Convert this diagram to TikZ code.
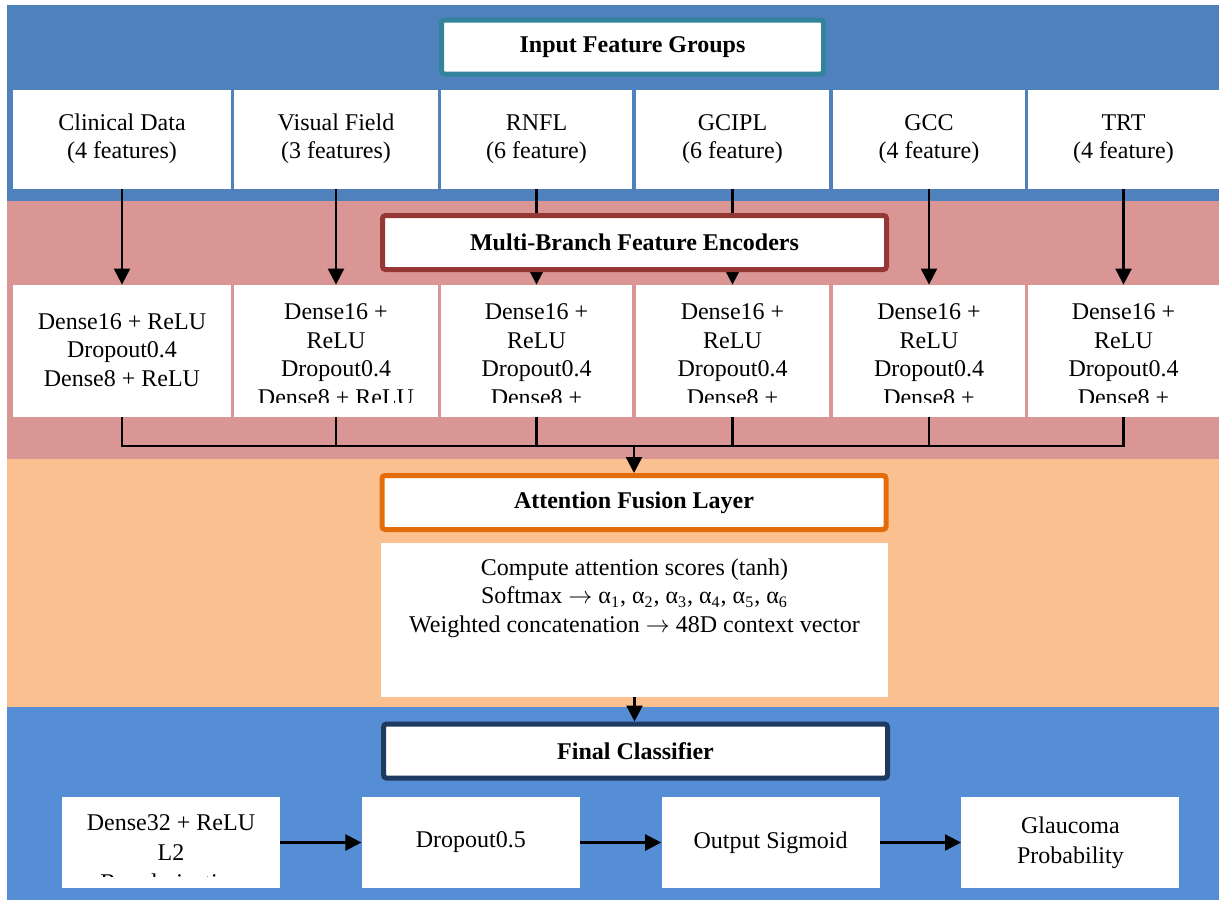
\documentclass[tikz,border=0pt]{standalone}
\usepackage{fontspec}
\setmainfont{Liberation Serif}
\usepackage{tikz}
\usetikzlibrary{positioning, arrows.meta}
\definecolor{inband}{HTML}{4F81BD}
\definecolor{encband}{HTML}{D99694}
\definecolor{fuseband}{HTML}{FAC090}
\definecolor{clsband}{HTML}{558ED5}
\definecolor{inedge}{HTML}{31849B}
\definecolor{encedge}{HTML}{953735}
\definecolor{fuseedge}{HTML}{E46C0A}
\definecolor{clsedge}{HTML}{1F3A60}
\tikzset{
  group title/.style={
    draw,
    line width=2.5pt,
    rounded corners=1.5pt,
    fill=white,
    minimum width=252pt,
    minimum height=27pt,
    inner sep=0pt,
    font=\fontsize{12}{14}\selectfont\bfseries
  },
  feat box/.style={
    fill=white, inner sep=0pt,
    minimum height=49.5pt,
    align=center, font=\fontsize{12}{14.2}\selectfont
  },
  enc box/.style={
    fill=white, inner sep=0pt,
    minimum height=66pt
  },
  enc text/.style={
    inner sep=0pt, anchor=north,
    align=center, font=\fontsize{12}{14.4}\selectfont
  },
  cls box/.style={
    fill=white, inner sep=0pt,
    minimum width=109pt, minimum height=45.5pt,
    align=center, font=\fontsize{12}{15}\selectfont
  },
  flow arrow/.style={
    -{Triangle[width=8pt, length=8pt]},
    line width=1.2pt
  },
  flow line/.style={line width=1.2pt}
}

\begin{document}
\begin{tikzpicture}[x=0.5pt, y=-0.5pt]
  \useasboundingbox (0,0) rectangle (1219,900);
  % stage bands
  \fill[inband] (7,5) rectangle (1219,201);
  \fill[encband] (7,201) rectangle (1219,459);
  \fill[fuseband] (7,459) rectangle (1219,707);
  \fill[clsband] (7,707) rectangle (1219,900);

  % input groups
  \node[feat box, minimum width=109pt] (clin) at (122,139) {Clinical Data\\(4 features)};
  \node[feat box, minimum width=102pt] (vf) at (336,139) {Visual Field\\(3 features)};
  \node[feat box, minimum width=95.5pt] (rnfl) at (536.5,139) {RNFL\\(6 feature)};
  \node[feat box, minimum width=96.5pt] (gcipl) at (732.5,139) {GCIPL\\(6 feature)};
  \node[feat box, minimum width=96pt] (gcc) at (929,139) {GCC\\(4 feature)};
  \node[feat box, minimum width=95.5pt] (trt) at (1123.5,139) {TRT\\(4 feature)};

  % encoder branches
  \node[enc box, minimum width=109pt] (encclin) at (122,351) {};
  \node[enc box, minimum width=102pt] (encvf) at (336,351) {};
  \node[enc box, minimum width=95.5pt] (encrnfl) at (536.5,351) {};
  \node[enc box, minimum width=96.5pt] (encgcipl) at (732.5,351) {};
  \node[enc box, minimum width=96pt] (encgcc) at (929,351) {};
  \node[enc box, minimum width=95.5pt] (enctrt) at (1123.5,351) {};

  \node[enc text, anchor=center] (encclintxt) at (122,350) {Dense16 + ReLU\\Dropout0.4\\Dense8 + ReLU};
  \begin{scope}
    \clip (encvf.north west) rectangle (encvf.east |- 0,402);
    \node[enc text] (encvftxt) at (336,303) {Dense16 +\\ReLU\\Dropout0.4\\Dense8 + ReLU};
  \end{scope}
  \foreach \n in {rnfl, gcipl, gcc, trt} {
    \begin{scope}
      \clip (enc\n.north west) rectangle (enc\n.east |- 0,402);
      \node[enc text] (enc\n txt) at (enc\n.north |- 0,303) {Dense16 +\\ReLU\\Dropout0.4\\Dense8 +};
    \end{scope}
  }

  \foreach \n in {clin, vf, rnfl, gcipl, gcc, trt}
    \draw[flow arrow] (\n) -- (enc\n);

  % merge into attention
  \coordinate (merge) at (634,446);
  \foreach \n in {clin, vf, rnfl, gcipl, gcc, trt}
    \draw[flow line] (enc\n.south) |- (merge);

  % attention block
  \node[fill=white, inner sep=0pt, minimum width=253.5pt, minimum height=77pt] (attnbody) at (634.5,620) {};
  \node[enc text, font=\fontsize{12}{14.4}\selectfont] (attntxt) at (634.5,558)
    {Compute attention scores (tanh)\\
     Softmax $\rightarrow$ α\textsubscript{1}, α\textsubscript{2}, α\textsubscript{3}, α\textsubscript{4}, α\textsubscript{5}, α\textsubscript{6}\\
     Weighted concatenation $\rightarrow$ 48D context vector};

  % classifier row
  \node[cls box] (dense32) at (171,842.5) {};
  \begin{scope}
    \clip (dense32.north west) rectangle (dense32.east |- 0,876);
    \node[enc text, font=\fontsize{12}{15}\selectfont] (dense32txt) at (171,814) {Dense32 + ReLU\\L2\\Regularization};
  \end{scope}
  \node[cls box, right=40.5pt of dense32] (drop) {Dropout0.5};
  \node[cls box, right=40.5pt of drop] (sigm) {Output Sigmoid};
  \node[cls box, right=40.5pt of sigm] (prob) {Glaucoma\\Probability};

  \draw[flow arrow] (dense32) -- (drop);
  \draw[flow arrow] (drop) -- (sigm);
  \draw[flow arrow] (sigm) -- (prob);

  % stage titles
  \node[group title, draw=inedge, minimum width=191pt] (ingroups) at (632.5,47) {Input Feature Groups};
  \node[group title, draw=encedge] (encoders) at (634.5,242.5) {Multi-Branch Feature Encoders};
  \node[group title, draw=fuseedge] (attn) at (634,502.5) {Attention Fusion Layer};
  \node[group title, draw=clsedge] (final) at (635.5,751) {Final Classifier};

  \draw[flow arrow] (merge) -- (attn.north);
  \draw[flow arrow] (attnbody.south) -- (attnbody.south |- final.north);
\end{tikzpicture}
\end{document}
